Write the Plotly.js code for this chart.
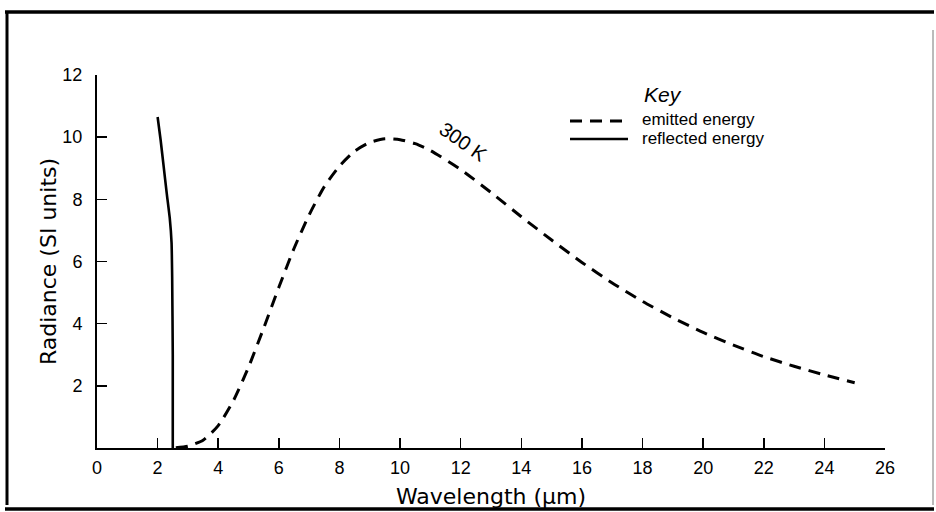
<!DOCTYPE html>
<html>
<head>
<meta charset="utf-8">
<script src="https://cdn.plot.ly/plotly-3.0.1.min.js"></script>
<style>html,body{margin:0;padding:0;background:#fff;}#chart{width:936px;height:512px;}</style>
</head>
<body>
<div id="chart"></div>
<script>
// Emitted energy (300 K)
var emittedX = [2.6, 3.0, 3.5, 4.0, 4.5, 5.0, 5.5, 6.0, 6.5, 7.0, 7.5, 8.0, 8.5, 9.0, 9.5, 10.0, 10.5, 11.0, 12.0, 13.0, 14.0, 15.0, 16.0, 17.0, 18.0, 19.0, 20.0, 21.0, 22.0, 23.0, 24.0, 25.0];
var emittedY = [0.01, 0.06, 0.25, 0.72, 1.52, 2.6, 3.86, 5.17, 6.42, 7.5, 8.41, 9.07, 9.55, 9.83, 9.95, 9.92, 9.79, 9.57, 8.96, 8.22, 7.44, 6.69, 5.97, 5.31, 4.72, 4.19, 3.72, 3.31, 2.94, 2.63, 2.35, 2.1];
// Reflected energy
var reflectedX = [2.0, 2.1, 2.2, 2.3, 2.4, 2.46, 2.48, 2.5, 2.5];
var reflectedY = [10.65, 9.9, 9.05, 8.2, 7.4, 6.6, 5.5, 3.0, 0.0];
var xTicks = [0, 2, 4, 6, 8, 10, 12, 14, 16, 18, 20, 22, 24, 26];
var yTicks = [2, 4, 6, 8, 10, 12];
var seriesNames = ['emitted energy', 'reflected energy'];
var curveLabel = '300 K';
var keyTitle = 'Key';

var L = 97, R = 51, T = 75, B = 64, W = 936, H = 512;
var pw = W - L - R, ph = H - T - B;
function px2x(px) { return (px - L) / pw; }
function py2y(py) { return (H - B - py) / ph; }

var tickFont = {family: 'Liberation Sans Narrow, Liberation Sans, sans-serif', size: 18, color: '#000'};
var titleFont = {family: 'DejaVu Sans, sans-serif', size: 22, color: '#000'};

var traces = [
  {x: emittedX, y: emittedY, name: seriesNames[0], type: 'scatter', mode: 'lines',
   line: {color: '#000', width: 3, dash: '12px,8px', shape: 'spline', smoothing: 0.6}},
  {x: reflectedX, y: reflectedY, name: seriesNames[1], type: 'scatter', mode: 'lines',
   line: {color: '#000', width: 2.6, shape: 'spline', smoothing: 0.4}}
];

var shapes = [
  // outer frame
  {type: 'line', xref: 'paper', yref: 'paper', x0: px2x(5), x1: px2x(934), y0: py2y(12), y1: py2y(12), line: {color: '#000', width: 3.5}},
  {type: 'line', xref: 'paper', yref: 'paper', x0: px2x(7), x1: px2x(7), y0: py2y(11), y1: py2y(505), line: {color: '#000', width: 3}},
  {type: 'line', xref: 'paper', yref: 'paper', x0: px2x(5), x1: px2x(934), y0: py2y(509), y1: py2y(509), line: {color: '#000', width: 3.5}},
  {type: 'line', xref: 'paper', yref: 'paper', x0: px2x(933), x1: px2x(933), y0: py2y(30), y1: py2y(505), line: {color: '#777', width: 1}},
  // key samples
  {type: 'line', xref: 'paper', yref: 'paper', x0: px2x(570), x1: px2x(628), y0: py2y(121), y1: py2y(121), line: {color: '#000', width: 3, dash: '12px,8px'}},
  {type: 'line', xref: 'paper', yref: 'paper', x0: px2x(570), x1: px2x(628), y0: py2y(139), y1: py2y(139), line: {color: '#000', width: 2.6}}
];

var annotations = [
  {xref: 'paper', yref: 'paper', x: px2x(642), y: py2y(94), xanchor: 'left', yanchor: 'middle', showarrow: false,
   text: keyTitle, font: {family: 'Liberation Sans, sans-serif', size: 21, style: 'italic', color: '#000'}},
  {xref: 'paper', yref: 'paper', x: px2x(640), y: py2y(120), xanchor: 'left', yanchor: 'middle', showarrow: false,
   text: seriesNames[0], font: {family: 'Liberation Sans, sans-serif', size: 17, color: '#000'}},
  {xref: 'paper', yref: 'paper', x: px2x(640), y: py2y(138), xanchor: 'left', yanchor: 'middle', showarrow: false,
   text: seriesNames[1], font: {family: 'Liberation Sans, sans-serif', size: 17, color: '#000'}},
  {xref: 'x', yref: 'y', x: 12.1, y: 9.85, xanchor: 'center', yanchor: 'middle', showarrow: false, textangle: 35,
   text: curveLabel, font: {family: 'Liberation Sans, sans-serif', size: 20, color: '#000'}}
];

var layout = {
  width: W, height: H,
  margin: {l: L, r: R, t: T, b: B, pad: 0},
  paper_bgcolor: '#fff', plot_bgcolor: '#fff',
  showlegend: false,
  xaxis: {range: [0, 26], tickvals: xTicks, ticktext: xTicks.map(String), showgrid: false, zeroline: false,
          showline: true, linecolor: '#000', linewidth: 2, ticks: 'inside', ticklen: 10, tickwidth: 1.5, tickcolor: '#000',
          tickfont: tickFont, ticklabelstandoff: 2,
          title: {text: 'Wavelength (\u03bcm)', font: titleFont, standoff: 12}, automargin: false, fixedrange: true},
  yaxis: {range: [0, 12], tickvals: yTicks, ticktext: yTicks.map(String), showgrid: false, zeroline: false,
          showline: true, linecolor: '#000', linewidth: 2, ticks: 'inside', ticklen: 10, tickwidth: 1.5, tickcolor: '#000',
          tickfont: tickFont, ticklabelstandoff: 9,
          title: {text: 'Radiance (SI units)', font: titleFont, standoff: 0}, automargin: false, fixedrange: true},
  shapes: shapes,
  annotations: annotations
};

Plotly.newPlot('chart', traces, layout, {staticPlot: true, displayModeBar: false});
</script>
</body>
</html>
